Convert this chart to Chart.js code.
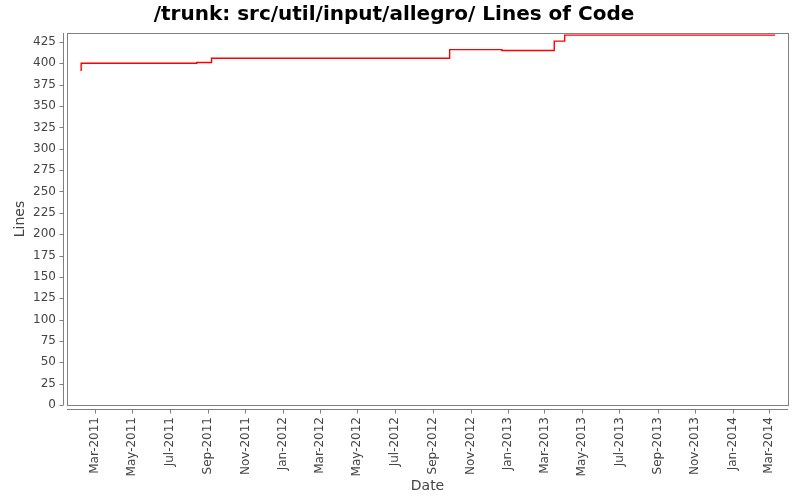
<!DOCTYPE html>
<html lang="en">
<head>
    <meta charset="UTF-8">
    <script src="https://cdn.jsdelivr.net/npm/chart.js@4.4.1/dist/chart.umd.min.js"></script>
    <title>Lines of Code</title>
    <style>
        body { margin: 0; background: #fff; }
    </style>
</head>
<body>
    <canvas id="locChart" width="800" height="500"></canvas>
    <script>
        // revision dates and line counts
        const revDates = ['2011-02-07', '2011-02-07', '2011-08-14', '2011-09-07', '2012-09-28', '2012-12-22', '2013-03-17', '2013-04-03', '2014-03-11'];
        const lineCounts = [391, 400, 401, 406, 416, 415, 426, 433, 433];

        const tickDates = ['2011-03-01', '2011-05-01', '2011-07-01', '2011-09-01', '2011-11-01', '2012-01-01', '2012-03-01', '2012-05-01', '2012-07-01', '2012-09-01', '2012-11-01', '2013-01-01', '2013-03-01', '2013-05-01', '2013-07-01', '2013-09-01', '2013-11-01', '2014-01-01', '2014-03-01'];
        const tickLabels = ['Mar-2011', 'May-2011', 'Jul-2011', 'Sep-2011', 'Nov-2011', 'Jan-2012', 'Mar-2012', 'May-2012', 'Jul-2012', 'Sep-2012', 'Nov-2012', 'Jan-2013', 'Mar-2013', 'May-2013', 'Jul-2013', 'Sep-2013', 'Nov-2013', 'Jan-2014', 'Mar-2014'];

        const toMs = s => Date.parse(s + 'T00:00:00Z');
        const points = revDates.map((d, i) => ({ x: toMs(d), y: lineCounts[i] }));
        const tickValues = tickDates.map(toMs);

        const axisGrey = '#808080';

        // JFreeChart-like frame: plot box plus axis lines set 4px outside it
        const framePlugin = {
            id: 'frame',
            afterDraw(chart) {
                const { ctx, chartArea: a, scales } = chart;
                ctx.save();
                ctx.strokeStyle = axisGrey;
                ctx.lineWidth = 1;
                ctx.strokeRect(Math.round(a.left) + 0.5, Math.round(a.top) + 0.5,
                    Math.round(a.right - a.left), Math.round(a.bottom - a.top));

                const ax = Math.round(a.left) - 4 + 0.5;
                const ay = Math.round(a.bottom) + 4 + 0.5;
                ctx.beginPath();
                ctx.moveTo(ax, a.top);
                ctx.lineTo(ax, a.bottom);
                scales.y.ticks.forEach(t => {
                    const py = Math.round(scales.y.getPixelForValue(t.value)) + 0.5;
                    ctx.moveTo(ax, py);
                    ctx.lineTo(ax - 4, py);
                });
                ctx.moveTo(a.left, ay);
                ctx.lineTo(a.right, ay);
                scales.x.ticks.forEach(t => {
                    const px = Math.round(scales.x.getPixelForValue(t.value)) + 0.5;
                    ctx.moveTo(px, ay);
                    ctx.lineTo(px, ay + 4);
                });
                ctx.stroke();
                ctx.restore();
            }
        };

        const ctx = document.getElementById('locChart').getContext('2d');
        new Chart(ctx, {
            type: 'line',
            data: {
                datasets: [{
                    label: 'Lines of Code',
                    data: points,
                    stepped: true,
                    borderColor: '#ff0000',
                    borderWidth: 1.4,
                    pointRadius: 0,
                    fill: false
                }]
            },
            options: {
                responsive: false,
                devicePixelRatio: 1,
                animation: false,
                layout: { padding: { left: 0, right: 12, top: 0, bottom: 0 } },
                plugins: {
                    legend: { display: false },
                    tooltip: { enabled: false },
                    title: {
                        display: true,
                        text: '/trunk: src/util/input/allegro/ Lines of Code',
                        color: '#000',
                        font: { family: 'DejaVu Sans', size: 20, weight: 'bold' },
                        padding: { top: 3, bottom: 6 }
                    }
                },
                scales: {
                    x: {
                        type: 'linear',
                        min: toMs('2011-01-15'),
                        max: toMs('2014-04-01'),
                        afterBuildTicks: scale => {
                            scale.ticks = tickValues.map(v => ({ value: v }));
                        },
                        afterFit: scale => { scale.height = 95; },
                        ticks: {
                            autoSkip: false,
                            minRotation: 90,
                            maxRotation: 90,
                            padding: 4,
                            color: '#444',
                            font: { family: 'DejaVu Sans', size: 12 },
                            callback: (v, i) => tickLabels[i]
                        },
                        grid: { drawOnChartArea: false, tickLength: 8, tickColor: 'rgba(0,0,0,0)' },
                        border: { display: false },
                        title: {
                            display: true,
                            text: 'Date',
                            color: '#444',
                            font: { family: 'DejaVu Sans', size: 14 },
                            padding: { top: 0, bottom: 5 }
                        }
                    },
                    y: {
                        min: 0,
                        max: 435.5,
                        afterFit: scale => { scale.width = 67; },
                        ticks: {
                            stepSize: 25,
                            includeBounds: false,
                            padding: 3,
                            color: '#444',
                            font: { family: 'DejaVu Sans', size: 12 }
                        },
                        grid: { drawOnChartArea: false, tickLength: 8, tickColor: 'rgba(0,0,0,0)' },
                        border: { display: false },
                        title: {
                            display: true,
                            text: 'Lines',
                            color: '#444',
                            font: { family: 'DejaVu Sans', size: 14 },
                            padding: { top: 12, bottom: 0 }
                        }
                    }
                }
            },
            plugins: [framePlugin]
        });
    </script>
</body>
</html>
